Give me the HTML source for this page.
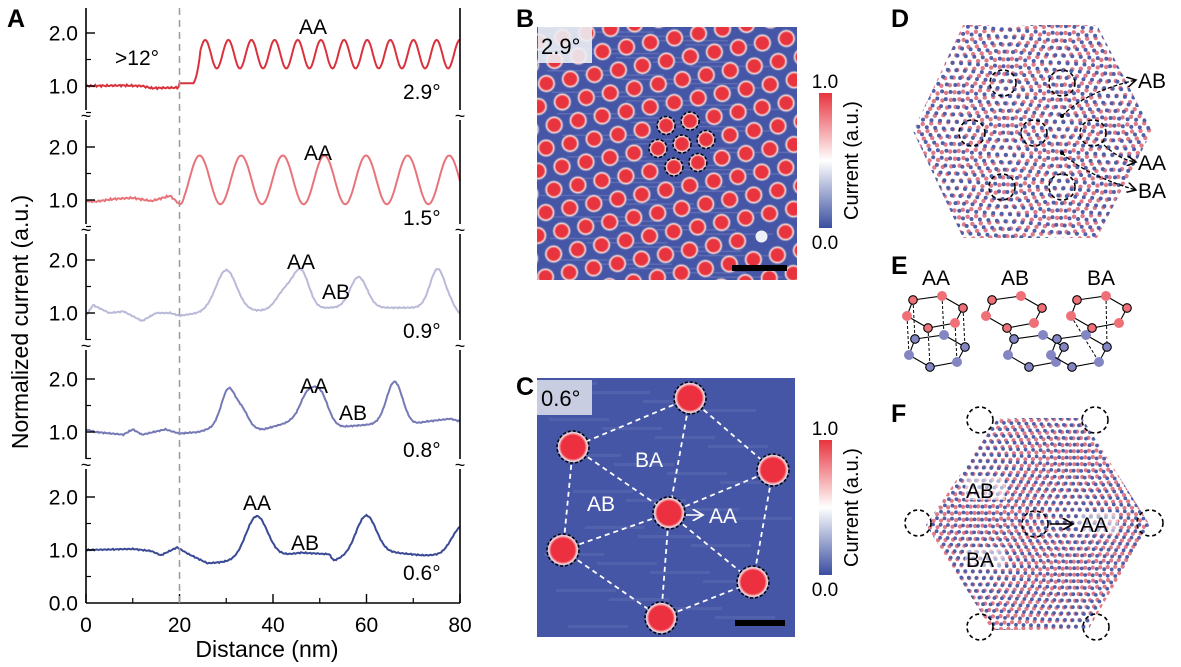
<!DOCTYPE html>
<html><head><meta charset="utf-8"><style>
html,body{margin:0;padding:0;background:#fff;}
svg{display:block;font-family:"Liberation Sans",Arial,sans-serif;}
</style></head><body>
<svg id="s" width="1181" height="667" viewBox="0 0 1181 667" xmlns="http://www.w3.org/2000/svg">
<defs>
<linearGradient id="cb" x1="0" y1="1" x2="0" y2="0">
<stop offset="0" stop-color="#3a4ea0"/><stop offset="0.5" stop-color="#ffffff"/><stop offset="1" stop-color="#e8343e"/>
</linearGradient>
<radialGradient id="dotB"><stop offset="0" stop-color="#e8343e"/><stop offset="0.6" stop-color="#ea4048"/><stop offset="0.78" stop-color="#f4dcdc"/><stop offset="1" stop-color="#5866ad" stop-opacity="0"/></radialGradient>
<radialGradient id="dotC"><stop offset="0" stop-color="#ec3040"/><stop offset="0.7" stop-color="#ee3a46"/><stop offset="0.85" stop-color="#f4e0e6"/><stop offset="1" stop-color="#4a5aa6" stop-opacity="0"/></radialGradient>
<clipPath id="clB"><rect x="537" y="27" width="260" height="253"/></clipPath>
<clipPath id="clC"><rect x="537" y="378" width="258" height="259"/></clipPath>
<clipPath id="clD"><polygon points="963,25 1097,25 1152,131 1097,238 963,238 913,131"/></clipPath>
<clipPath id="clF"><polygon points="998,418 1082,418 1150,525 1088,630 992,630 926,525"/></clipPath>
<marker id="ar" markerWidth="8" markerHeight="8" refX="7" refY="4" orient="auto"><path d="M0,0 L7,4 L0,8" fill="none" stroke="#000" stroke-width="1.2"/></marker>
<marker id="arw" markerWidth="8" markerHeight="8" refX="7" refY="4" orient="auto"><path d="M0,0 L7,4 L0,8" fill="none" stroke="#fff" stroke-width="1.2"/></marker>
</defs>
<g id="A"></g>
<g id="B" clip-path="url(#clB)"></g>
<g id="C" clip-path="url(#clC)"></g>
<g id="D"><g id="Dl" clip-path="url(#clD)"></g></g>
<g id="F"><g id="Fl" clip-path="url(#clF)"></g></g>
<g id="E"></g>
<g id="top"></g>
</svg>
<script>
var NS="http://www.w3.org/2000/svg";
function el(p,t,a,txt){var e=document.createElementNS(NS,t);for(var k in a)e.setAttribute(k,a[k]);if(txt!==undefined)e.textContent=txt;document.getElementById(p).appendChild(e);return e;}
var X0=86,X1=460,sx=(X1-X0)/80;
function X(d){return X0+d*sx;}
var base1=[86,200,313,432,550];
function interp(k,d){for(var i=0;i<k.length-1;i++){if(d>=k[i][0]&&d<=k[i+1][0]){var t=(d-k[i][0])/(k[i+1][0]-k[i][0]);return k[i][1]+t*(k[i+1][1]-k[i][1]);}}return k[k.length-1][1];}
function g(d,c,a,s){return a*Math.exp(-(d-c)*(d-c)/(2*s*s));}
function nz(d,i){return 0.012*Math.sin(d*7.3+i)+0.008*Math.sin(d*13.1+2*i);}
var f=[
function(d){if(d<20)return interp([[0,1.0],[8,1.01],[12,1.0],[14,0.96],[20,0.97]],d);if(d<23)return 1.05;var amp=Math.min(1,(d-23)/1.5);var m=1.05+(1.6-1.05)*amp;return m+amp*0.27*Math.cos(2*Math.PI*(d-25.5)/4.95);},
function(d){if(d<20)return interp([[0,0.98],[2,0.97],[6,1.02],[10,1.04],[14,0.98],[18,1.08],[20,0.92]],d);var v=1.38+0.46*Math.cos(2*Math.PI*(d-24.3)/8.9);return d<21?0.92+(v-0.92)*(d-20):v;},
function(d){var b=interp([[0,0.95],[1.5,1.15],[5,1.0],[8,1.03],[12,0.85],[15,1.0],[18,1.0],[20,0.95],[26,1.02],[40,1.05],[46,1.05],[52,1.1],[70,1.1],[78,1.15],[80,0.98]],d);return b+g(d,30,0.78,2.2)+g(d,42.5,0.35,1.8)+g(d,46,0.72,1.7)+g(d,58.3,0.58,1.8)+g(d,75.2,0.7,1.6);},
function(d){var b=interp([[0,1.05],[2,1.0],[8,0.95],[10,1.05],[12,0.95],[17,1.05],[20,0.97],[24,1.0],[28,1.1],[38,1.05],[44,1.2],[55,1.1],[62,1.15],[70,1.15],[73,1.2],[78,1.25],[80,1.2]],d);return b+g(d,30.5,0.72,1.5)+g(d,33.5,0.3,1.3)+g(d,47.3,0.5,1.6)+g(d,50.2,0.55,1.6)+g(d,66,0.8,1.7);},
function(d){var b=interp([[0,1.0],[10,1.02],[14,0.98],[16,0.9],[19.5,1.05],[22,0.92],[26,0.75],[29,0.77],[33,0.8],[42,0.9],[46,0.95],[52,0.92],[53,0.8],[58,0.95],[66,0.95],[72,0.9],[76,0.9],[80,0.95]],d);return b+g(d,36.5,0.8,2.3)+g(d,60,0.7,2.1)+g(d,80.5,0.5,2.2);}
];
var cols=["#d9323c","#e8747a","#babad9","#7579b5","#3b4a95"];
for(var i=0;i<5;i++){var p="";for(var d=0;d<=80.001;d+=0.25){var v=f[i](d)+(i<2&&d<20?nz(d,i):0)+(i>=2?nz(d,i)*0.6:0);p+=(d==0?"M":"L")+X(d).toFixed(1)+","+(base1[i]-(v-1)*53).toFixed(1);}
el("A","path",{d:p,fill:"none",stroke:cols[i],"stroke-width":2});}
var A="A";
var breaks=[115,229,345,464];
var segs=[[8,110],[120,224],[234,340],[350,459],[469,603]];
segs.forEach(function(s){el(A,"line",{x1:X0,y1:s[0],x2:X0,y2:s[1],stroke:"#000","stroke-width":1.6});el(A,"line",{x1:X1,y1:s[0],x2:X1,y2:s[1],stroke:"#000","stroke-width":1.6});});
breaks.forEach(function(y){el(A,"text",{x:X0,y:y+7,"font-size":18,"text-anchor":"middle"},"~");el(A,"text",{x:X1,y:y+7,"font-size":18,"text-anchor":"middle"},"~");});
el(A,"line",{x1:X0,y1:603,x2:X1,y2:603,stroke:"#000","stroke-width":1.6});
for(var i=0;i<5;i++){var b=base1[i];
[[1,b],[2,b-53]].forEach(function(t){el(A,"line",{x1:X0,y1:t[1],x2:X0+9,y2:t[1],stroke:"#000","stroke-width":1.4});el(A,"text",{x:X0-8,y:t[1]+7.5,"font-size":21,"text-anchor":"end"},t[0].toFixed(1));});
el(A,"line",{x1:X0,y1:b+26.5,x2:X0+5,y2:b+26.5,stroke:"#000","stroke-width":1.2});
el(A,"line",{x1:X0,y1:b-26.5,x2:X0+5,y2:b-26.5,stroke:"#000","stroke-width":1.2});}
el(A,"text",{x:X0-8,y:610.5,"font-size":21,"text-anchor":"end"},"0.0");
[0,20,40,60,80].forEach(function(d){el(A,"line",{x1:X(d),y1:603,x2:X(d),y2:594,stroke:"#000","stroke-width":1.4});el(A,"text",{x:X(d),y:632,"font-size":21,"text-anchor":"middle"},d);});
[10,30,50,70].forEach(function(d){el(A,"line",{x1:X(d),y1:603,x2:X(d),y2:598,stroke:"#000","stroke-width":1.2});});
el(A,"line",{x1:X(20),y1:8,x2:X(20),y2:603,stroke:"#999","stroke-width":1.5,"stroke-dasharray":"7,5"});
el(A,"text",{x:267,y:657,"font-size":23,"text-anchor":"middle"},"Distance (nm)");
el(A,"text",{x:0,y:0,"font-size":23,"text-anchor":"middle",transform:"translate(28,322) rotate(-90)"},"Normalized current (a.u.)");
el(A,"text",{x:7,y:27,"font-size":25,"font-weight":"bold"},"A");
var lab=[[115,65,">12°"],[299,34,"AA"],[403,99,"2.9°"],[304,160,"AA"],[403,225,"1.5°"],[287,269,"AA"],[322,299,"AB"],[403,338,"0.9°"],[300,393,"AA"],[339,420,"AB"],[403,457,"0.8°"],[243,510,"AA"],[291,550,"AB"],[403,580,"0.6°"]];
lab.forEach(function(l){el(A,"text",{x:l[0],y:l[1],"font-size":21},l[2]);});
// B
el("B","rect",{x:537,y:27,width:260,height:253,fill:"#4656a6"});
for(var k=0;k<60;k++){el("B","rect",{x:537+(k*37)%180,y:27+k*4.3,width:80,height:1.5,fill:"#8a96cc",opacity:0.35});}
var a1=[24,-4.5],a2=[8.1,-23.0],cx=682,cy=144;
for(var m=-20;m<=20;m++)for(var n=-20;n<=20;n++){var x=cx+m*a1[0]+n*a2[0],y=cy+m*a1[1]+n*a2[1];if(x<525||x>810||y<15||y>295)continue;if(Math.abs(x-756)<10&&Math.abs(y-238)<10){el("B","circle",{cx:x,cy:y,r:6,fill:"#eef0f8"});continue;}
el("B","circle",{cx:x,cy:y,r:10,fill:"url(#dotB)"});el("B","circle",{cx:x,cy:y,r:5.8,fill:"#e8343e"});}
el("B","rect",{x:538,y:27,width:54,height:36,fill:"#eceef4",opacity:0.9});
el("B","text",{x:541,y:54,"font-size":22},"2.9°");
[[0,0],[1,0],[0,1],[-1,0],[0,-1],[1,-1],[-1,1]].forEach(function(v){el("B","circle",{cx:cx+v[0]*a1[0]+v[1]*a2[0],cy:cy+v[0]*a1[1]+v[1]*a2[1],r:9,fill:"none",stroke:"#000","stroke-width":1.5,"stroke-dasharray":"3,2"});});
el("B","rect",{x:732,y:265,width:55,height:6,fill:"#000"});
// C
el("C","rect",{x:537,y:378,width:258,height:259,fill:"#4656a6"});
for(var k=0;k<28;k++){el("C","rect",{x:537+(k*53)%200,y:382+k*9,width:60,height:3,fill:"#8c96c8",opacity:0.18});}
var P=[[690,398],[573,447],[773,470],[669,513],[563,550],[753,582],[661,618]];
var L=[[0,1],[0,2],[0,3],[1,3],[1,4],[2,3],[2,5],[3,4],[3,6],[3,5],[4,6],[6,5]];
L.forEach(function(l){el("C","line",{x1:P[l[0]][0],y1:P[l[0]][1],x2:P[l[1]][0],y2:P[l[1]][1],stroke:"#fff","stroke-width":1.8,"stroke-dasharray":"5,4"});});
P.forEach(function(q){el("C","circle",{cx:q[0],cy:q[1],r:17,fill:"url(#dotC)"});el("C","circle",{cx:q[0],cy:q[1],r:12,fill:"#ec3040"});el("C","circle",{cx:q[0],cy:q[1],r:16,fill:"none",stroke:"#000","stroke-width":1.5,"stroke-dasharray":"3,2"});});
el("C","rect",{x:537,y:380,width:55,height:35,fill:"#c9cde2"});
el("C","text",{x:541,y:406,"font-size":22},"0.6°");
el("C","text",{x:635,y:467,"font-size":21,fill:"#fff"},"BA");
el("C","text",{x:587,y:511,"font-size":21,fill:"#fff"},"AB");
el("C","line",{x1:686,y1:515,x2:703,y2:515,stroke:"#fff","stroke-width":1.5,"marker-end":"url(#arw)"});
el("C","text",{x:709,y:523,"font-size":21,fill:"#fff"},"AA");
el("C","rect",{x:735,y:620,width:50,height:6,fill:"#000"});
function cbar(y0,h){el("top","rect",{x:819,y:y0,width:13,height:h,fill:"url(#cb)"});el("top","text",{x:825,y:y0-5,"font-size":19,"text-anchor":"middle"},"1.0");el("top","text",{x:825,y:y0+h+21,"font-size":19,"text-anchor":"middle"},"0.0");el("top","text",{x:0,y:0,"font-size":20,"text-anchor":"middle",transform:"translate(858,"+(y0+h/2)+") rotate(-90)"},"Current (a.u.)");}
cbar(93,135);cbar(440,135);
el("top","text",{x:516,y:27,"font-size":25,"font-weight":"bold"},"B");
el("top","text",{x:516,y:395,"font-size":25,"font-weight":"bold"},"C");
el("top","text",{x:891,y:27,"font-size":25,"font-weight":"bold"},"D");
el("top","text",{x:891,y:274,"font-size":25,"font-weight":"bold"},"E");
el("top","text",{x:891,y:422,"font-size":25,"font-weight":"bold"},"F");
function lat(id,cx,cy,a,rot,col,x0,x1,y0,y1,r){var c=Math.cos(rot),s=Math.sin(rot);var b1=[a*c,a*s],b2=[a*(0.5*c-0.866*s),a*(0.5*s+0.866*c)];
for(var m=-30;m<=30;m++)for(var n=-30;n<=30;n++){var x=cx+m*b1[0]+n*b2[0],y=cy+m*b1[1]+n*b2[1];if(x<x0||x>x1||y<y0||y>y1)continue;el(id,"circle",{cx:x.toFixed(1),cy:y.toFixed(1),r:r,fill:col});}}
lat("Dl",1034,131,8.5,-0.07,"#e07a86",905,1160,18,245,2.2);
lat("Dl",1037,135,8.5,0.07,"#5060a8",905,1160,18,245,2.0);
lat("Fl",1035,524,7.5,-0.033,"#e07a86",920,1155,412,636,2.1);
lat("Fl",1038,528,7.5,0.033,"#5060a8",920,1155,412,636,1.9);
function dc(id,x,y){el(id,"circle",{cx:x,cy:y,r:13,fill:"none",stroke:"#000","stroke-width":1.6,"stroke-dasharray":"4,3"});}
[[1003,83],[1062,83],[972,133],[1034,133],[1093,133],[1002,187],[1062,187]].forEach(function(q){dc("D",q[0],q[1]);});
el("D","circle",{cx:1062,cy:116,r:2,fill:"#000"});el("D","circle",{cx:1062,cy:153,r:2,fill:"#000"});
el("D","path",{d:"M1062,116 Q1085,92 1136,80",fill:"none",stroke:"#000","stroke-width":1.3,"stroke-dasharray":"4,2","marker-end":"url(#ar)"});
el("D","path",{d:"M1062,153 Q1085,175 1136,190",fill:"none",stroke:"#000","stroke-width":1.3,"stroke-dasharray":"4,2","marker-end":"url(#ar)"});
el("D","path",{d:"M1104,145 Q1120,160 1136,162",fill:"none",stroke:"#000","stroke-width":1.3,"stroke-dasharray":"4,2","marker-end":"url(#ar)"});
el("D","text",{x:1138,y:88,"font-size":21},"AB");
el("D","text",{x:1138,y:170,"font-size":21},"AA");
el("D","text",{x:1138,y:198,"font-size":21},"BA");
[[980,420],[1095,420],[918,523],[1150,523],[980,627],[1096,627],[1035,524]].forEach(function(q){dc("F",q[0],q[1]);});
el("F","rect",{x:965,y:478,width:40,height:22,fill:"#fff",opacity:0.55});
el("F","rect",{x:965,y:547,width:40,height:22,fill:"#fff",opacity:0.55});
el("F","rect",{x:1078,y:512,width:40,height:22,fill:"#fff",opacity:0.55});
el("F","text",{x:966,y:498,"font-size":21},"AB");
el("F","text",{x:966,y:567,"font-size":21},"BA");
el("F","line",{x1:1050,y1:524,x2:1073,y2:524,stroke:"#000","stroke-width":1.5,"marker-end":"url(#ar)"});
el("F","text",{x:1080,y:532,"font-size":21},"AA");
var hx=[[0,4],[29,0],[50,12],[42,27],[15,32],[-6,20]];
function unit(ox,dx,lines){var top=hx.map(function(v){return [ox+v[0],300+v[1]-4];});var bot=hx.map(function(v){return [ox+v[0]+dx,300+v[1]+35];});
lines.forEach(function(l){el("E","line",{x1:top[l[0]][0],y1:top[l[0]][1],x2:bot[l[1]][0],y2:bot[l[1]][1],stroke:"#000","stroke-width":1,"stroke-dasharray":"3,2"});});
[bot,top].forEach(function(h,j){var pd="M"+h.map(function(q){return q.join(",");}).join("L")+"Z";el("E","path",{d:pd,fill:"none",stroke:"#000","stroke-width":1.1});
h.forEach(function(q,k){var o=k%2==0;el("E","circle",{cx:q[0],cy:q[1],r:o?4.3:5,fill:j?"#f07078":"#8486c4",stroke:o?"#000":"none","stroke-width":1.1});});});}
unit(913,2,[[0,0],[1,1],[2,2],[3,3],[4,4],[5,5]]);
unit(992,22,[[4,0]]);
unit(1077,-20,[[1,2],[5,3]]);
el("E","text",{x:922,y:285,"font-size":21},"AA");
el("E","text",{x:1001,y:285,"font-size":21},"AB");
el("E","text",{x:1087,y:285,"font-size":21},"BA");
</script>
</body></html>
